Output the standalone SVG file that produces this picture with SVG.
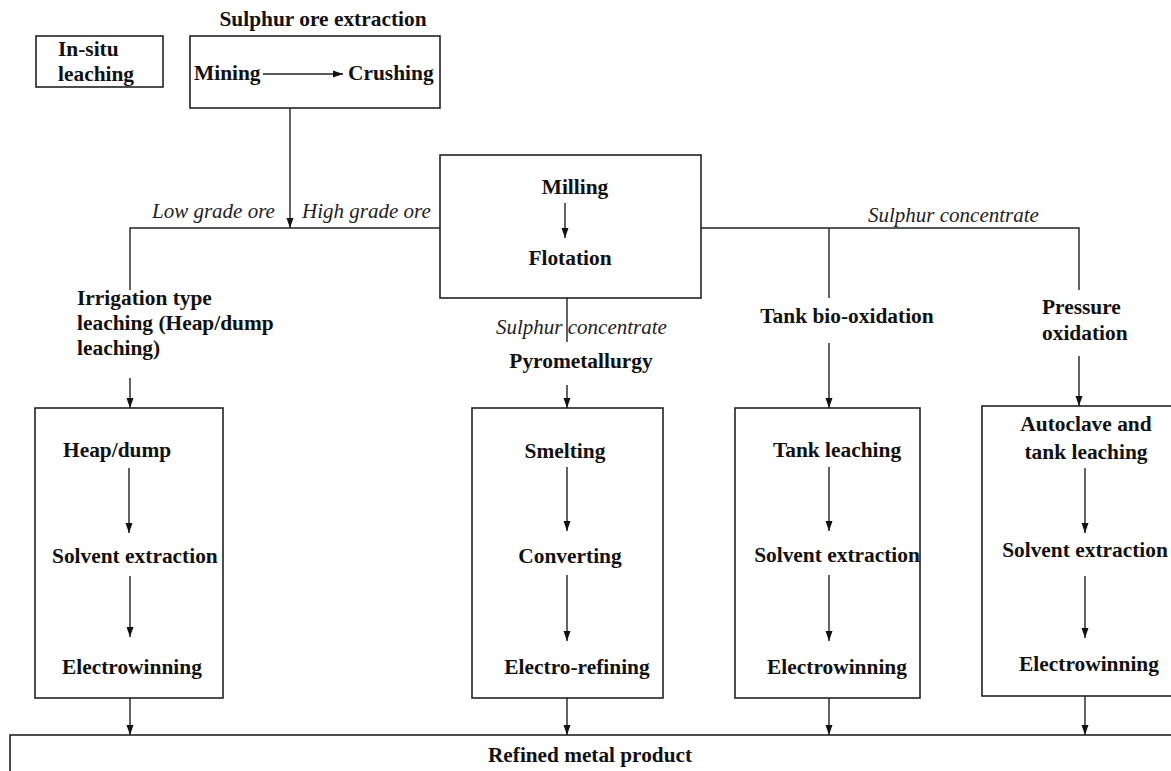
<svg xmlns="http://www.w3.org/2000/svg" width="1171" height="771" viewBox="0 0 1171 771">
<style>
.box{fill:#fff;stroke:#222;stroke-width:1.6}
.ln{fill:none;stroke:#222;stroke-width:1.4}
.t{font-family:"Liberation Serif",serif;font-weight:bold;font-size:21.4px;fill:#111}
.c{text-anchor:middle}
.i{font-family:"Liberation Serif",serif;font-style:italic;font-size:21px;fill:#222}
</style>
<defs>
<marker id="ah" markerUnits="userSpaceOnUse" markerWidth="10" markerHeight="10" viewBox="0 0 10 10" refX="10" refY="5" orient="auto">
<path d="M0,1.5 L10,5 L0,8.5 Z" fill="#111"/>
</marker>
</defs>
<rect width="1171" height="771" fill="#fff"/>

<g id="insitu">
<rect class="box" x="36" y="36" width="127" height="51"/>
<text class="t" x="58" y="56">In-situ</text>
<text class="t" x="58" y="81">leaching</text>
</g>

<g id="extraction">
<text class="t c" x="323" y="26">Sulphur ore extraction</text>
<rect class="box" x="190" y="36" width="250" height="72"/>
<text class="t" x="194" y="80">Mining</text>
<text class="t" x="348" y="80">Crushing</text>
</g>

<g id="milling">
<rect class="box" x="440" y="155" width="261" height="143"/>
<text class="t c" x="575" y="194">Milling</text>
<text class="t c" x="570" y="265">Flotation</text>
</g>

<g id="labels">
<text class="i" x="152" y="218">Low grade ore</text>
<text class="i" x="302" y="218">High grade ore</text>
<text class="i" x="868" y="222">Sulphur concentrate</text>
<text class="i" x="496" y="334">Sulphur concentrate</text>
</g>

<g id="irrigation">
<text class="t" x="77" y="305">Irrigation type</text>
<text class="t" x="77" y="330">leaching (Heap/dump</text>
<text class="t" x="77" y="355">leaching)</text>
</g>
<g id="pyro"><text class="t c" x="581" y="368">Pyrometallurgy</text></g>
<g id="tankbio"><text class="t c" x="847" y="323">Tank bio-oxidation</text></g>
<g id="pressure">
<text class="t" x="1042" y="314">Pressure</text>
<text class="t" x="1042" y="340">oxidation</text>
</g>

<g id="heapbox">
<rect class="box" x="35" y="408" width="188" height="290"/>
<text class="t" x="63" y="457">Heap/dump</text>
<text class="t" x="52" y="563">Solvent extraction</text>
<text class="t" x="62" y="674">Electrowinning</text>
</g>

<g id="smeltbox">
<rect class="box" x="472" y="408" width="191" height="290"/>
<text class="t c" x="565" y="458">Smelting</text>
<text class="t c" x="570" y="563">Converting</text>
<text class="t c" x="577" y="674">Electro-refining</text>
</g>

<g id="tankbox">
<rect class="box" x="735" y="408" width="185" height="290"/>
<text class="t c" x="837" y="457">Tank leaching</text>
<text class="t c" x="837" y="562">Solvent extraction</text>
<text class="t c" x="837" y="674">Electrowinning</text>
</g>

<g id="autoclavebox">
<rect class="box" x="982" y="406" width="195" height="290"/>
<text class="t c" x="1086" y="431">Autoclave and</text>
<text class="t c" x="1086" y="459">tank leaching</text>
<text class="t c" x="1085" y="557">Solvent extraction</text>
<text class="t c" x="1089" y="671">Electrowinning</text>
</g>

<g id="refined">
<rect class="box" x="10" y="735" width="1170" height="50"/>
<text class="t c" x="590" y="762" textLength="204" lengthAdjust="spacingAndGlyphs">Refined metal product</text>
</g>

<g id="connectors">
<line class="ln" x1="263" y1="74" x2="343" y2="74" marker-end="url(#ah)"/>
<line class="ln" x1="290" y1="108" x2="290" y2="228" marker-end="url(#ah)"/>
<polyline class="ln" points="130,290 130,228 440,228"/>
<line class="ln" x1="130" y1="378" x2="130" y2="408" marker-end="url(#ah)"/>
<line class="ln" x1="565" y1="203" x2="565" y2="238" marker-end="url(#ah)"/>
<line class="ln" x1="567" y1="298" x2="567" y2="342"/>
<line class="ln" x1="567" y1="385" x2="567" y2="408" marker-end="url(#ah)"/>
<polyline class="ln" points="701,228 1079,228 1079,290"/>
<line class="ln" x1="829" y1="228" x2="829" y2="298"/>
<line class="ln" x1="829" y1="343" x2="829" y2="408" marker-end="url(#ah)"/>
<line class="ln" x1="1079" y1="356" x2="1079" y2="406" marker-end="url(#ah)"/>
<line class="ln" x1="129" y1="468" x2="129" y2="533" marker-end="url(#ah)"/>
<line class="ln" x1="130" y1="576" x2="130" y2="637" marker-end="url(#ah)"/>
<line class="ln" x1="567" y1="467" x2="567" y2="531" marker-end="url(#ah)"/>
<line class="ln" x1="567" y1="575" x2="567" y2="641" marker-end="url(#ah)"/>
<line class="ln" x1="829" y1="467" x2="829" y2="531" marker-end="url(#ah)"/>
<line class="ln" x1="829" y1="575" x2="829" y2="641" marker-end="url(#ah)"/>
<line class="ln" x1="1085" y1="468" x2="1085" y2="533" marker-end="url(#ah)"/>
<line class="ln" x1="1085" y1="576" x2="1085" y2="638" marker-end="url(#ah)"/>
<line class="ln" x1="130" y1="698" x2="130" y2="735" marker-end="url(#ah)"/>
<line class="ln" x1="567" y1="698" x2="567" y2="735" marker-end="url(#ah)"/>
<line class="ln" x1="829" y1="698" x2="829" y2="735" marker-end="url(#ah)"/>
<line class="ln" x1="1085" y1="696" x2="1085" y2="735" marker-end="url(#ah)"/>
</g>
</svg>
